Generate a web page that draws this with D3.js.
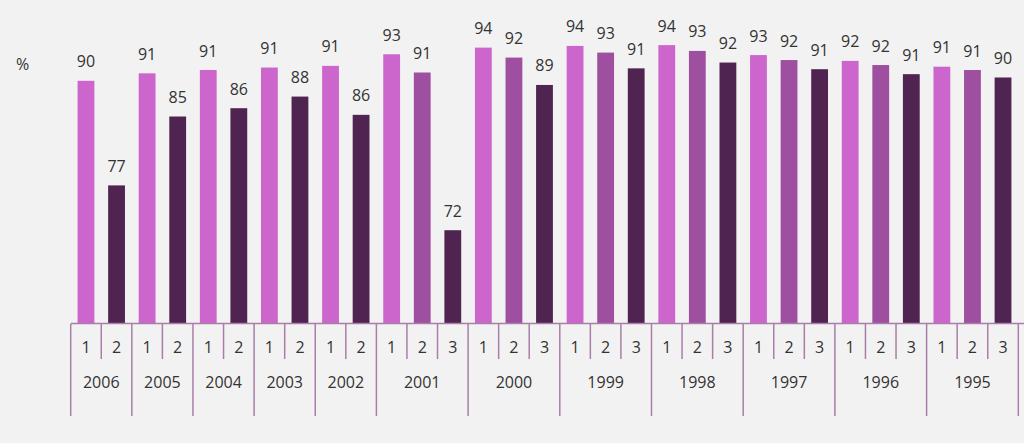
<!DOCTYPE html>
<html>
<head>
<meta charset="utf-8">
<script src="https://cdn.jsdelivr.net/npm/d3@7"></script>
<style>
  html, body { margin: 0; padding: 0; background: #f2f2f2; }
  svg { display: block; }
  text { font-family: "Open Sans", "DejaVu Sans", sans-serif; fill: #333; }
</style>
</head>
<body>
<svg id="chart" width="1024" height="443"></svg>
<script>
// ---- data ----
const years = ["2006", "2005", "2004", "2003", "2002", "2001", "2000", "1999", "1998", "1997", "1996", "1995"];
const subCounts = [2, 2, 2, 2, 2, 3, 3, 3, 3, 3, 3, 3];
const values1 = [89.8, 90.7, 91.1, 91.4, 91.6, 93.0, 93.8, 94.0, 94.1, 92.9, 92.2, 91.5];
const values2 = [77.2, 85.5, 86.5, 87.9, 85.7, 90.8, 92.6, 93.2, 93.4, 92.3, 91.7, 91.1];
const values3 = [null, null, null, null, null, 71.8, 89.3, 91.3, 92.0, 91.2, 90.6, 90.2];
const labels1 = ["90", "91", "91", "91", "91", "93", "94", "94", "94", "93", "92", "91"];
const labels2 = ["77", "85", "86", "88", "86", "91", "92", "93", "93", "92", "92", "91"];
const labels3 = [null, null, null, null, null, "72", "89", "91", "92", "91", "91", "90"];
const subLabels = ["1", "2", "3"];
const yDomain = [60.5, 100.5];
const unitLabel = "%";

// ---- styles ----
const colorsTwo = ["#cc66cc", "#4f2450"];
const colorsThree = ["#cc66cc", "#9e4fa0", "#4f2450"];
const axisColor = "#a87ea8";

// ---- build slots ----
const slots = [];
years.forEach((y, gi) => {
  const vals = [values1[gi], values2[gi], values3[gi]];
  const labs = [labels1[gi], labels2[gi], labels3[gi]];
  const n = subCounts[gi];
  for (let k = 0; k < n; k++) {
    slots.push({
      id: y + "-" + k, year: y, gi: gi, k: k, n: n,
      value: vals[k], label: labs[k], sub: subLabels[k],
      color: (n === 2 ? colorsTwo : colorsThree)[k]
    });
  }
});

const svg = d3.select("#chart");
const baseY = 324;
const x = d3.scaleBand().domain(slots.map(d => d.id)).range([70.7, 1018.3]).padding(0);
const y = d3.scaleLinear().domain(yDomain).range([baseY, baseY - 40 * 8.3]);
const bw = x.bandwidth() * 0.55;

// bars
svg.append("g").selectAll("rect").data(slots).join("rect")
  .attr("x", d => x(d.id) + (x.bandwidth() - bw) / 2)
  .attr("y", d => y(d.value))
  .attr("width", bw)
  .attr("height", d => baseY - y(d.value))
  .attr("fill", d => d.color);

// value labels
svg.append("g").selectAll("text").data(slots).join("text")
  .attr("x", d => x(d.id) + x.bandwidth() / 2)
  .attr("y", d => y(d.value) - 13.5)
  .attr("text-anchor", "middle")
  .style("font-size", "16px")
  .text(d => d.label);

// unit label
svg.append("text").attr("x", 16).attr("y", 70).style("font-size", "16px").text(unitLabel);

// axis baseline
const axis = svg.append("g");
axis.append("line")
  .attr("x1", x.range()[0]).attr("x2", 1024)
  .attr("y1", baseY - 0.5).attr("y2", baseY - 0.5)
  .attr("stroke", axisColor).attr("stroke-width", 1.5);

// short ticks between sub-slots
axis.selectAll("line.short").data(slots.filter(d => d.k > 0)).join("line")
  .attr("class", "short")
  .attr("x1", d => x(d.id)).attr("x2", d => x(d.id))
  .attr("y1", baseY).attr("y2", 359)
  .attr("stroke", axisColor).attr("stroke-width", 1.5);

// long group separators
const groupEdges = slots.filter(d => d.k === 0).map(d => x(d.id));
groupEdges.push(x.range()[1]);
axis.selectAll("line.long").data(groupEdges).join("line")
  .attr("class", "long")
  .attr("x1", d => d).attr("x2", d => d)
  .attr("y1", baseY).attr("y2", 416)
  .attr("stroke", axisColor).attr("stroke-width", 1.5);

// sub labels
axis.selectAll("text.sub").data(slots).join("text")
  .attr("class", "sub")
  .attr("x", d => x(d.id) + x.bandwidth() / 2)
  .attr("y", 353)
  .attr("text-anchor", "middle")
  .style("font-size", "16px")
  .text(d => d.sub);

// year labels
const groups = years.map((yr, gi) => {
  const s = slots.filter(d => d.gi === gi);
  const x0 = x(s[0].id), x1 = x(s[s.length - 1].id) + x.bandwidth();
  return { year: yr, cx: (x0 + x1) / 2 };
});
axis.selectAll("text.year").data(groups).join("text")
  .attr("class", "year")
  .attr("x", d => d.cx)
  .attr("y", 387.5)
  .attr("text-anchor", "middle")
  .style("font-size", "16px")
  .text(d => d.year);
</script>
</body>
</html>
